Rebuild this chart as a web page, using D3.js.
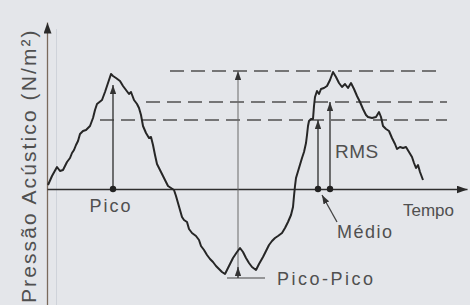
<!DOCTYPE html>
<html>
<head>
<meta charset="utf-8">
<script src="https://cdn.jsdelivr.net/npm/d3@7"></script>
<style>
  html, body { margin: 0; padding: 0; background: #e4e6ea; }
  svg { display: block; }
  .lbl { font-family: "Liberation Sans", Arial, sans-serif; fill: #505050; }
</style>
</head>
<body>
<div id="chart"></div>
<script>
// waveform samples (time units, pressure units)
const waveT = [0.1, 0.5, 1.0, 1.3, 1.6, 2.0, 2.3, 2.5, 2.7, 2.9, 3.1, 3.3, 3.6, 3.9, 4.3, 4.6, 4.8, 5.0, 5.5, 5.8,
  6.1, 6.4, 6.6, 6.9, 7.3, 7.6, 7.9, 8.2, 8.4, 8.7, 9.0, 9.2, 9.4, 9.6, 9.9, 10.2, 10.4, 10.6, 10.8, 11.0,
  11.3, 11.6, 11.9, 12.1, 12.4, 12.7, 12.9, 13.1, 13.3, 13.5, 13.7, 14.0, 14.2, 14.5, 14.9, 15.2, 15.4, 15.7, 16.0, 16.3,
  16.6, 16.9, 17.2, 17.5, 17.8, 18.2, 18.6, 19.0, 19.3, 19.6, 19.9, 20.2, 20.5, 20.9, 21.2, 21.6, 21.9, 22.2, 22.5, 22.8,
  23.1, 23.5, 23.8, 24.1, 24.4, 24.6, 24.7, 24.8, 24.9, 25.2, 25.5, 25.7, 25.9, 26.0, 26.1, 26.2, 26.4, 26.6, 26.7, 26.8,
  27.0, 27.2, 27.4, 27.7, 28.0, 28.3, 28.6, 28.9, 29.2, 29.5, 29.8, 30.1, 30.4, 30.7, 31.0, 31.3, 31.6, 31.9, 32.1, 32.5,
  32.9, 33.2, 33.4, 33.6, 33.9, 34.2, 34.5, 34.8, 35.0, 35.3, 35.6, 35.9, 36.2, 36.5, 36.7, 36.9, 37.1, 37.3, 37.6];
const waveP = [0.4, 1.3, 2.2, 1.8, 1.9, 2.7, 3.1, 3.6, 3.9, 4.4, 4.8, 5.5, 5.8, 5.9, 6.3, 7.1, 7.9, 8.5, 8.9, 9.7,
  10.6, 11.5, 11.3, 11.1, 10.8, 10.3, 9.9, 9.5, 9.7, 8.9, 8.5, 8.1, 7.4, 6.3, 5.6, 5.1, 5.2, 4.4, 3.4, 2.5,
  1.9, 1.3, 0.7, 0.3, 0.1, -0.1, -0.7, -1.4, -2.1, -2.8, -3.1, -3.3, -4.0, -4.4, -4.7, -5.1, -5.7, -6.1, -6.6, -7.0,
  -7.3, -7.7, -8.0, -8.3, -8.5, -7.7, -6.9, -6.3, -5.9, -6.3, -6.9, -7.4, -7.8, -8.1, -7.5, -6.8, -6.2, -5.6, -5.2, -4.9,
  -4.7, -4.4, -3.9, -3.3, -2.6, -1.8, -0.7, 0.3, 1.1, 2.1, 3.1, 3.7, 4.6, 5.4, 6.3, 6.8, 7.0, 7.0, 8.3, 9.2,
  9.8, 9.5, 10.0, 10.1, 10.3, 10.9, 11.7, 11.2, 10.6, 10.2, 10.5, 10.1, 10.6, 10.0, 9.3, 8.7, 8.0, 7.4, 7.2, 7.1,
  7.2, 7.7, 7.2, 6.3, 6.0, 5.8, 5.1, 4.5, 4.0, 4.2, 4.1, 4.2, 3.7, 3.2, 2.6, 2.1, 2.4, 1.7, 0.9];

// reference levels: pico, rms, medio, minimum
const levelNames = ["pico", "rms", "medio", "min"];
const levelValues = [11.8, 8.7, 6.9, -8.9];
// dashed guide lines [start, end] in time units
const dashStart = [12.3, 9.9, 5.3];
const dashEnd = [39.6, 40.0, 40.0];

// vertical arrows: time, from, to
const arrowT = [6.6, 19.1, 27.1, 28.3];
const arrowFrom = [0, -8.9, 0, 0];
const arrowTo = [10.4, 11.8, 6.9, 8.7];
const dotT = [6.6, 27.1, 28.3];

const width = 470;
const height = 305;

const svg = d3.select("#chart")
    .append("svg")
    .attr("width", width)
    .attr("height", height);

svg.append("rect")
    .attr("width", width)
    .attr("height", height)
    .attr("fill", "#e4e6ea");

// scales (10px per unit both ways)
const x = d3.scaleLinear()
    .domain([0, 42])
    .range([47, 467]);
const y = d3.scaleLinear()
    .domain([-12, 18])
    .range([309, 9]);

// arrow markers
const defs = svg.append("defs");
function addMarker(id, len, half, color) {
  defs.append("marker")
      .attr("id", id)
      .attr("markerUnits", "userSpaceOnUse")
      .attr("viewBox", `0 ${-half} ${len} ${half * 2}`)
      .attr("refX", len)
      .attr("refY", 0)
      .attr("markerWidth", len)
      .attr("markerHeight", half * 2)
      .attr("orient", "auto")
      .append("path")
      .attr("d", `M0,${-half}L${len},0L0,${half}Z`)
      .attr("fill", color);
}
addMarker("arr", 9, 3.2, "#333");
addMarker("arrAxis", 11, 4, "#2a2a2a");

// faint scan line next to the axis
svg.append("line")
    .attr("x1", 56.5).attr("x2", 56.5)
    .attr("y1", y(16)).attr("y2", height)
    .attr("stroke", "#cfd3da")
    .attr("stroke-width", 1);

// y axis (no ticks)
svg.append("g")
    .attr("transform", `translate(${x(0)},0)`)
    .call(d3.axisLeft(y.copy().domain([-11.6, 16.7]).range([y(-11.6), y(16.7)]))
        .tickValues([]).tickSizeOuter(0))
    .select(".domain")
    .attr("stroke", "#7a6a5c")
    .attr("stroke-width", 1.3)
    .attr("marker-end", "url(#arrAxis)");

// x axis (no ticks)
svg.append("g")
    .attr("transform", `translate(0,${y(0)})`)
    .call(d3.axisBottom(x).tickValues([]).tickSizeOuter(0))
    .select(".domain")
    .attr("stroke", "#2e2e2e")
    .attr("stroke-width", 1.4)
    .attr("marker-end", "url(#arrAxis)");

// dashed level lines
svg.selectAll(".dash")
    .data(dashStart)
    .enter()
    .append("line")
    .attr("class", "dash")
    .attr("x1", (d) => x(d))
    .attr("x2", (d, i) => x(dashEnd[i]))
    .attr("y1", (d, i) => y(levelValues[i]))
    .attr("y2", (d, i) => y(levelValues[i]))
    .attr("stroke", "#505050")
    .attr("stroke-width", 1.5)
    .attr("stroke-dasharray", "14,7");

// vertical arrows
svg.selectAll(".varrow")
    .data(arrowT)
    .enter()
    .append("line")
    .attr("class", "varrow")
    .attr("x1", (d) => x(d))
    .attr("x2", (d) => x(d))
    .attr("y1", (d, i) => y(arrowFrom[i]))
    .attr("y2", (d, i) => y(arrowTo[i]))
    .attr("stroke", (d, i) => i === 1 ? "#6a6a6a" : "#3a3a3a")
    .attr("stroke-width", (d, i) => i === 1 ? 1 : 1.4)
    .attr("marker-end", "url(#arr)");

// waveform
const wave = waveT.map((t, i) => [t, waveP[i]]);
svg.append("path")
    .datum(wave)
    .attr("fill", "none")
    .attr("stroke", "#262626")
    .attr("stroke-width", 2)
    .attr("stroke-linejoin", "round")
    .attr("d", d3.line()
        .x((d) => x(d[0]))
        .y((d) => y(d[1])));

// pico-pico bottom: small arrow up from minimum level + leader line
const minY = y(levelValues[3]);
svg.append("line")
    .attr("x1", x(arrowT[1])).attr("x2", x(arrowT[1]))
    .attr("y1", minY).attr("y2", minY - 11)
    .attr("stroke", "#333")
    .attr("stroke-width", 1.2)
    .attr("marker-end", "url(#arr)");
svg.append("line")
    .attr("x1", x(18.0)).attr("x2", x(21.8))
    .attr("y1", minY).attr("y2", minY)
    .attr("stroke", "#444")
    .attr("stroke-width", 1.2);

// dots on time axis
svg.selectAll(".dot")
    .data(dotT)
    .enter()
    .append("circle")
    .attr("class", "dot")
    .attr("cx", (d) => x(d))
    .attr("cy", y(0))
    .attr("r", 3.2)
    .attr("fill", "#222");

// médio leader arrow
svg.append("line")
    .attr("x1", 337).attr("x2", 322)
    .attr("y1", 222).attr("y2", 195)
    .attr("stroke", "#444")
    .attr("stroke-width", 1.3)
    .attr("marker-end", "url(#arr)");

// labels
svg.append("text").attr("class", "lbl")
    .attr("x", 111).attr("y", 212)
    .attr("text-anchor", "middle")
    .style("font-size", "18px").style("letter-spacing", "2px")
    .text("Pico");
svg.append("text").attr("class", "lbl")
    .attr("x", 403).attr("y", 216)
    .style("font-size", "17px").style("letter-spacing", "0px")
    .text("Tempo");
svg.append("text").attr("class", "lbl")
    .attr("x", 335).attr("y", 158)
    .style("font-size", "19px").style("letter-spacing", "0.5px")
    .text("RMS");
svg.append("text").attr("class", "lbl")
    .attr("x", 337).attr("y", 238)
    .style("font-size", "18px").style("letter-spacing", "1.5px")
    .text("Médio");
svg.append("text").attr("class", "lbl")
    .attr("x", 277).attr("y", 285)
    .style("font-size", "18px").style("letter-spacing", "2.5px")
    .text("Pico-Pico");

// y axis title (reads bottom to top, starts near the bottom edge)
svg.append("text").attr("class", "lbl")
    .attr("transform", "translate(36,303) rotate(-90)")
    .attr("text-anchor", "start")
    .style("font-size", "21px").style("letter-spacing", "2.1px")
    .text("Pressão Acústico (N/m²)");
</script>
</body>
</html>
